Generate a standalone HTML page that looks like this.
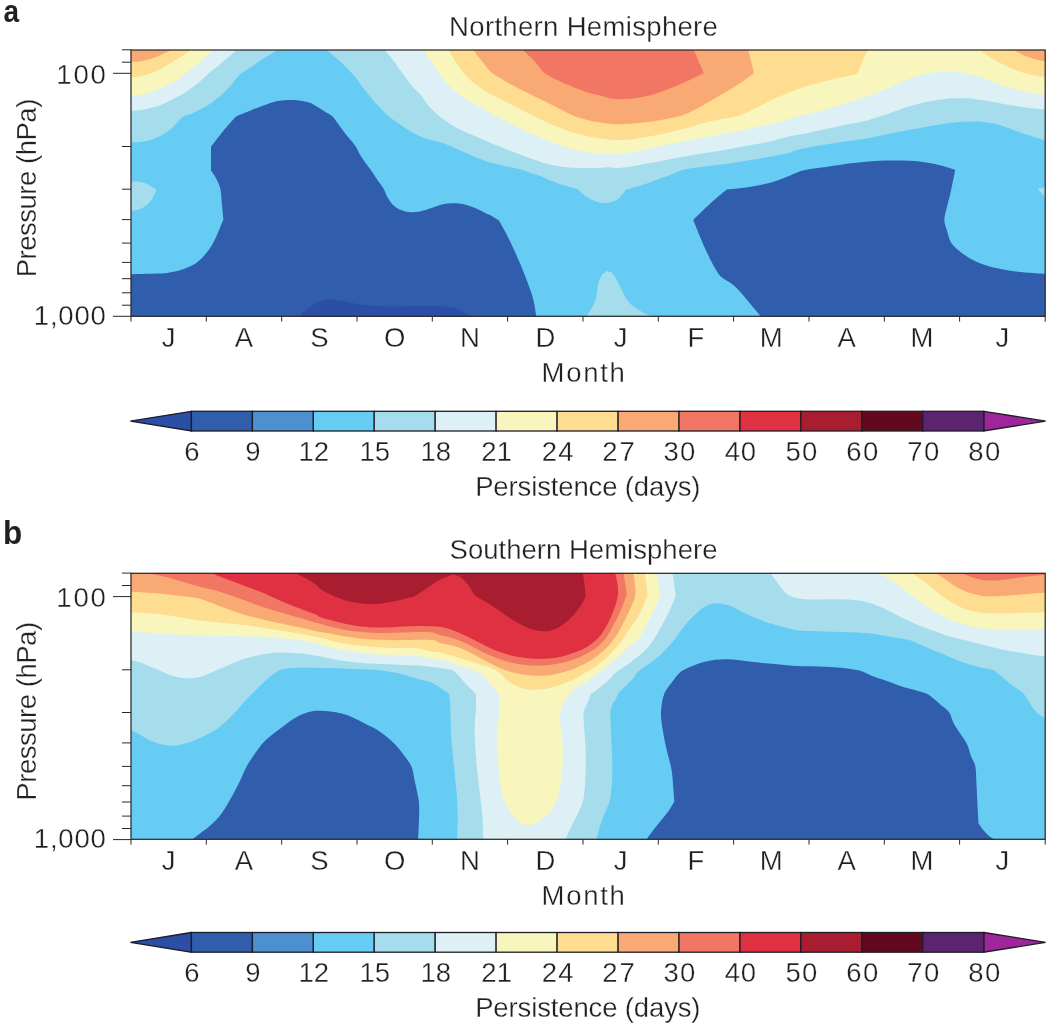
<!DOCTYPE html>
<html lang="en"><head><meta charset="utf-8"><title>Persistence by hemisphere</title>
<style>html,body{margin:0;padding:0;background:#fff}svg text{font-kerning:normal}svg text.t{stroke:#fff;stroke-width:.3px}svg text.b{stroke:none}</style></head>
<body>
<svg width="1050" height="1028" viewBox="0 0 1050 1028" style="display:block">
<rect width="1050" height="1028" fill="#fff"/>
<defs><clipPath id="cp1"><rect x="131" y="50" width="914.2" height="266.3"/></clipPath></defs>
<g clip-path="url(#cp1)" shape-rendering="geometricPrecision">
<rect x="131" y="50" width="914.2" height="266.3" fill="#66CCF4"/>
<path d="M128 47 L128 142.6 C128 142.6 135.6 142.4 139 142.1 C142.2 141.8 145.5 141.4 148.6 140.6 C151.7 139.7 155.1 138.6 158.1 137.1 C161.3 135.6 164.8 133.5 167.6 131.4 C170.4 129.5 172.8 127.1 175.2 124.8 C177.8 122.4 180 119 182.9 117.1 C185.7 115.2 189.3 114.7 192.4 113.3 C195.6 111.9 198.8 110.3 201.9 108.6 C205.1 106.8 208.4 105 211.4 102.9 C214.6 100.6 217.9 98 221 95.2 C224.1 92.4 227.5 89 230.5 85.7 C233.7 82.2 236.5 77.5 240 74.3 C243.4 71.2 247.9 69 251.4 66.7 C254.6 64.5 257.8 62.1 261 60 C264.1 58 267.3 56.1 270.5 54.3 C274.2 52.1 283.3 47 283.3 47Z" fill="#A5DDEC"/>
<path d="M1048.2 47 L323.2 47 C323.2 47 332.4 54.8 336.2 58.1 C339.4 60.9 342.7 63.6 345.7 66.7 C348.9 69.8 352.4 73.7 355.2 77.1 C358 80.5 360.3 84.3 362.9 87.6 C365.3 90.9 367.9 94.1 370.5 97.1 C372.9 100.1 375.5 102.9 378.1 105.7 C381 108.7 384.2 112.3 387.6 115.2 C391.1 118.3 395.2 121.1 399 123.8 C402.8 126.5 407 129.4 410.5 131.4 C413.5 133.2 416.7 134.8 420 136.2 C423.5 137.6 427.6 138.8 431.4 140 C435.6 141.3 440.4 142.3 444.8 143.8 C449.2 145.4 453.7 147.6 458.1 149.5 C462.9 151.6 468.3 154.1 473.3 156.2 C478.4 158.2 483.5 160.3 488.6 161.9 C493.6 163.5 498.7 164.5 503.8 165.7 C508.9 166.9 514 167.7 519 169.1 C524.1 170.6 531.3 173.3 534.3 174.3 C535.2 174.6 536.2 174.4 537.1 174.8 C539.8 175.8 546 178.7 550.5 180.5 C554.9 182.2 559.4 183.8 563.8 185.2 C568.2 186.7 573.8 187.5 577.1 189 C579.8 190.3 581.4 193 583.8 194.8 C586.3 196.6 589.4 198.7 592.4 200.1 C595.4 201.5 598.7 202.6 601.9 203 C605.1 203.3 608.6 202.8 611.4 202 C614.2 201.2 616.9 200 619 198.2 C621.4 196.2 625.7 190 625.7 190 C625.7 190 632.7 187.9 636.2 186.8 C640.2 185.5 645.1 183.9 649.5 182.4 C654 180.9 658.4 179.3 662.9 177.6 C667.3 176 672.7 173.7 676.2 172.4 C678.7 171.4 681.2 170.1 683.8 169.5 C687.6 168.7 694 167.9 699 167.2 C704.1 166.5 709.2 166 714.3 165.3 C719.4 164.7 724.5 164.2 729.5 163.4 C734.6 162.7 739.7 161.8 744.8 161 C749.8 160.1 754.9 159.3 760 158.5 C765.1 157.6 770.2 156.8 775.2 155.8 C780.3 154.8 787.1 153.3 790.5 152.4 C792.1 151.9 793.6 150.9 795.2 150.5 C798.6 149.6 805.4 148.1 810.5 147 C815.5 146 820.6 145.2 825.7 144.4 C830.8 143.5 835.9 142.6 841 141.9 C847.5 141 858.7 139.7 865.2 138.7 C870.4 137.9 875.4 136.7 880.5 135.6 C885.6 134.6 890.6 133.4 895.7 132.4 C900.8 131.4 905.9 130.5 911 129.5 C916 128.6 921.1 127.6 926.2 126.7 C931.3 125.8 936.3 124.9 941.4 124.2 C946.5 123.5 951.6 122.7 956.7 122.3 C961.7 121.8 967.5 121.6 971.9 121.5 C975.7 121.5 979.5 121.5 983.3 121.9 C987.1 122.3 991 122.9 994.8 123.8 C998.6 124.7 1002.4 126 1006.2 127.2 C1010 128.5 1013.8 130.1 1017.6 131.4 C1021.4 132.8 1025.2 134 1029 135.2 C1034.1 136.9 1048.2 141.6 1048.2 141.6Z" fill="#A5DDEC"/>
<path d="M128 181.8 C128 181.8 135.6 181.3 139 181.8 C142.3 182.3 145.7 183.5 148.6 184.9 C151.4 186.2 156.6 190 156.6 190 C156.6 190 154.6 194.5 153.3 196.7 C152 198.9 150.3 201.5 148.6 203.3 C146.9 205.1 144.8 206.6 142.9 207.7 C141.1 208.7 139.2 209.6 137.1 210 C134.7 210.5 128 210.9 128 210.9Z" fill="#A5DDEC"/>
<path d="M584.8 319.3 C584.8 319.3 590.5 310.8 592.4 307.1 C594 304.1 595.4 300.9 596.2 297.6 C597.1 293.8 597.1 288.1 598.1 284.3 C598.9 281 601.9 274.8 601.9 274.8 C601.9 274.8 606.7 271 606.7 271 C606.7 271 612.4 272.9 612.4 272.9 C612.4 272.9 615.7 277.9 617.1 280.5 C618.7 283.3 620.3 286.8 621.9 290 C623.5 293.2 624.6 296.7 626.7 299.5 C628.7 302.4 631.5 304.9 634.3 307.1 C637.1 309.4 640.5 311.3 643.8 312.9 C648.1 314.9 659.9 319.3 659.9 319.3Z" fill="#A5DDEC"/>
<path d="M1037.6 189 L1048.2 186.2 L1048.2 200.5Z" fill="#A5DDEC"/>
<path d="M128 47 L128 111.1 C128 111.1 136.9 110.7 141 110.1 C144.8 109.5 148.6 108.7 152.4 107.6 C156.2 106.6 160.1 105.4 163.8 103.8 C167.6 102.2 171.5 100.1 175.2 98.1 C179 96 183.2 93.7 186.7 91.4 C189.9 89.3 193.3 87 196.2 84.8 C198.9 82.7 201.6 80.2 203.8 78.1 C205.8 76.3 207.5 74.1 209.5 72.4 C211.7 70.5 214.7 68.7 217.1 66.7 C219.7 64.6 222.2 62.2 224.8 60 C227.3 57.9 229.9 55.9 232.4 53.7 C234.9 51.5 239.9 47 239.9 47Z" fill="#DCF0F6"/>
<path d="M1048.2 47 L382.3 47 C382.3 47 388.6 54.5 391.4 58.1 C394.1 61.5 396.5 65.1 399 68.6 C401.6 72.1 404.1 75.7 406.7 79 C409.1 82.3 411.7 85.7 414.3 88.6 C416.7 91.3 419.7 93.5 421.9 96.2 C424.1 98.8 425.4 102.1 427.6 104.8 C430.2 107.8 433.7 111.4 437.1 114.3 C440.6 117.3 444.6 120.3 448.6 122.9 C452.7 125.6 457.3 128.2 461.9 130.5 C466.7 132.9 472.1 134.9 477.1 137.1 C482.2 139.4 487.3 141.7 492.4 143.8 C497.8 146 503.8 148.3 509.5 150.5 C515.2 152.7 521 155.1 526.7 157.1 C532.3 159.2 538.1 161.3 543.8 162.9 C549.4 164.4 555.2 165.8 561 166.7 C566.6 167.5 572.4 167.8 578.1 168 C583.8 168.2 589.8 168.1 595.2 168 C600.3 167.9 607.1 167.2 610.5 167.2 C612.1 167.2 613.6 168 615.2 168 C618.6 167.9 625.4 167.4 630.5 166.7 C635.6 166 640.6 164.8 645.7 163.8 C650.8 162.9 655.9 161.9 661 161 C666 160 671.1 159 676.2 158.1 C681.3 157.1 686.3 156.1 691.4 155.2 C696.5 154.4 701.6 153.6 706.7 152.8 C711.7 152 716.8 151.3 721.9 150.5 C727 149.6 732.1 148.6 737.1 147.6 C742.2 146.7 747.3 145.7 752.4 144.8 C757.5 143.8 763 142.9 767.6 141.9 C771.8 141 775.9 139.7 780 138.7 C784.6 137.6 790.2 136.3 795.2 135.2 C800.3 134.2 805.4 133.4 810.5 132.4 C815.6 131.4 820.6 130.3 825.7 129.1 C830.8 128 835.9 126.8 841 125.7 C847.5 124.3 858.7 122.5 865.2 121 C870.4 119.7 875.4 117.9 880.5 116.2 C885.6 114.5 890.6 112.6 895.7 110.9 C900.8 109.1 905.9 107.2 911 105.7 C916 104.2 921.1 103 926.2 101.9 C931.2 100.9 936.3 100 941.4 99.4 C946.5 98.8 951.6 98.4 956.7 98.3 C961.7 98.2 966.8 98.2 971.9 98.7 C977 99.1 982.1 100.1 987.1 101 C992.2 101.8 997.3 102.9 1002.4 103.8 C1007.4 104.7 1012.9 105.6 1017.6 106.3 C1022.1 107 1026.5 107.7 1031 108.2 C1036 108.8 1048.2 109.8 1048.2 109.8Z" fill="#DCF0F6"/>
<path d="M128 47 L128 95.8 C128 95.8 136.9 95.6 141 94.9 C144.9 94.1 148.6 92.8 152.4 91.4 C156.2 90.1 160.1 88.4 163.8 86.7 C167.6 84.9 171.7 83 175.2 81 C178.6 79 181.7 76.6 184.8 74.3 C187.9 71.9 191.4 69 194.3 66.7 C196.9 64.5 199.4 62.2 201.9 60 C204.4 57.9 207 55.9 209.5 53.7 C212 51.5 217 47 217 47Z" fill="#F8F6BD"/>
<path d="M1048.2 47 L421.9 47 C421.9 47 427 55.1 429.5 59 C432 62.9 434.6 66.8 437.1 70.5 C439.6 74 442 77.7 444.8 81 C447.6 84.3 450.9 87.5 454.3 90.5 C457.8 93.5 461.7 96.4 465.7 99 C469.8 101.7 474.6 104.1 479 106.7 C483.8 109.4 489.2 112.5 494.3 115.2 C499.3 117.9 504.4 120.3 509.5 122.9 C514.9 125.6 521 128.7 526.7 131.4 C532.3 134.1 538.1 136.7 543.8 139 C549.5 141.4 555.2 143.8 561 145.7 C566.6 147.6 572.4 149.2 578.1 150.5 C583.8 151.7 589.8 152.7 595.2 153.3 C600.3 153.9 607.1 154.1 610.5 154.3 C612.1 154.4 613.7 154.4 615.2 154.3 C618.6 154 625.4 153.2 630.5 152.4 C635.6 151.6 640.7 150.6 645.7 149.5 C650.8 148.4 655.9 146.8 661 145.7 C666 144.6 671.1 143.8 676.2 142.9 C681.3 141.9 686.3 141 691.4 140 C696.5 139 701.6 138.1 706.7 137.1 C711.7 136.2 716.8 135.2 721.9 134.3 C727 133.3 732.1 132.5 737.1 131.4 C742.2 130.4 747.3 129.1 752.4 128 C757.5 126.9 763 125.8 767.6 124.8 C771.8 123.8 775.9 123 780 121.9 C784.6 120.6 790.2 118.6 795.2 117.1 C800.3 115.7 805.4 114.6 810.5 113.3 C815.6 112.1 820.7 110.9 825.7 109.5 C830.8 108.1 835.9 106.4 841 104.8 C847.5 102.7 858.7 99.4 865.2 97.1 C870.4 95.4 875.5 93.5 880.5 91.4 C885.6 89.4 890.6 87 895.7 84.8 C900.8 82.5 905.9 79.9 911 78.1 C915.9 76.3 921.4 74.9 926.2 73.9 C930.6 73 935.1 72.3 939.5 72 C944 71.7 948.4 71.6 952.9 71.8 C957.3 72 961.8 72.5 966.2 73.3 C970.6 74.2 975.1 75.7 979.5 77.1 C984 78.6 988.4 80.3 992.9 81.9 C997.3 83.5 1001.7 85.2 1006.2 86.7 C1010.6 88.1 1015.1 89.4 1019.5 90.5 C1023.9 91.6 1028.4 92.6 1032.9 93.3 C1037.6 94.1 1048.2 95.2 1048.2 95.2Z" fill="#F8F6BD"/>
<path d="M128 47 L128 77.4 C128 77.4 137.2 76.9 141 76.2 C144.2 75.6 147.3 74.4 150.5 73.3 C153.7 72.2 156.9 71.1 160 69.5 C163.2 67.9 166.3 65.7 169.5 63.8 C172.7 61.9 176.2 59.9 179 58.1 C181.6 56.5 184.2 54.7 186.7 53 C189.3 51.1 195 47 195 47Z" fill="#FEDC90"/>
<path d="M446.8 47 C446.8 47 452.6 56.7 455.2 61 C457.7 64.8 460.2 69 462.9 72.4 C465.4 75.5 468.4 78.3 471.4 81 C474.8 83.8 478.9 86.9 482.9 89.5 C487 92.2 491.7 94.7 496.2 97.1 C501 99.7 506.3 102.2 511.4 104.8 C516.5 107.3 521.6 109.8 526.7 112.4 C531.7 114.9 536.8 117.6 541.9 120 C546.9 122.4 552.1 124.6 557.1 126.7 C562.2 128.7 567.3 130.8 572.4 132.4 C577.4 133.9 582.5 135.1 587.6 136.2 C592.7 137.2 598.3 138 602.9 138.7 C607 139.2 611.1 139.9 615.2 140 C619.8 140.1 625.4 139.9 630.5 139.4 C635.6 139 640.6 138 645.7 137.1 C650.8 136.3 655.9 135.4 661 134.3 C666 133.2 671.1 131.7 676.2 130.5 C681.3 129.2 686.4 128 691.4 126.7 C696.5 125.3 701.6 123.6 706.7 122.3 C711.7 121 716.8 120.1 721.9 119 C727 118 733 117.3 737.1 116.2 C740.4 115.3 743.5 113.8 746.7 112.4 C749.8 111 753 109.2 756.2 107.6 C759.4 106 762.5 104.4 765.7 102.9 C768.9 101.3 772.9 99.2 775.2 98.1 C776.8 97.4 778.4 96.8 780 96.2 C782.7 95.1 787.6 92.9 791.4 91.4 C795.6 89.8 800.3 88.1 804.8 86.7 C809.2 85.3 813.6 84 818.1 82.9 C822.9 81.6 828.6 80.2 833.3 79 C837.8 78 842.7 77 846.7 76.2 C850.2 75.4 857.1 73.9 857.1 73.9 C857.1 73.9 859.7 67.7 861 64.8 C862.2 61.9 863.4 59 864.8 56.2 C866.2 53.2 869.5 47 869.5 47Z" fill="#FEDC90"/>
<path d="M1048.2 47 L975.2 47 C975.2 47 983.6 52.9 987.1 55.2 C990.2 57.3 993.4 59.2 996.7 61 C1000.2 62.9 1004.3 64.9 1008.1 66.7 C1011.8 68.4 1015.7 70.1 1019.5 71.4 C1023.3 72.7 1027.1 73.8 1031 74.7 C1035.7 75.7 1048.2 77.7 1048.2 77.7Z" fill="#FEDC90"/>
<path d="M128 47 L128 62.1 C128 62.1 137.2 61.8 141 61.3 C144.2 60.9 147.4 60 150.5 59 C153.7 58 157.1 56.4 160 55.2 C162.6 54.2 165.1 53.1 167.6 51.8 C170.4 50.4 176.4 47 176.4 47Z" fill="#F9AA74"/>
<path d="M471.1 47 C471.1 47 477.7 55.9 481 60 C484 63.9 487.3 68.4 490.5 71.4 C493.3 74.1 496.7 76 500 78.1 C503.5 80.3 507.5 82.7 511.4 84.8 C515.9 87.1 521.6 89.8 526.7 92.4 C531.7 94.9 536.8 97.5 541.9 100 C547 102.5 552.1 105.1 557.1 107.6 C562.2 110.2 567.3 113.2 572.4 115.2 C577.3 117.2 582.5 118.7 587.6 120 C592.6 121.3 598.3 122.2 602.9 122.9 C607 123.5 611.1 124 615.2 124.2 C619.8 124.3 625.4 124.1 630.5 123.8 C635.6 123.5 640.6 122.9 645.7 122.3 C650.8 121.7 655.9 120.9 661 120 C666 119.1 671.7 118.3 676.2 117.1 C680.1 116.2 683.9 114.9 687.6 113.3 C691.4 111.7 695.3 109.6 699 107.6 C702.9 105.6 706.7 103.2 710.5 101 C714.3 98.7 718.1 96.5 721.9 94.3 C725.7 92.1 729.6 90 733.3 87.6 C737.1 85.2 741.3 82.4 744.8 80 C747.9 77.8 753.9 73.3 753.9 73.3 C753.9 73.3 752.4 65.7 751.4 61.9 C750.3 57.5 747.4 47 747.4 47Z" fill="#F9AA74"/>
<path d="M1048.2 47 L1008.6 47 C1008.6 47 1017.7 52.4 1021.4 54.3 C1024.5 55.8 1027.8 57 1031 58.1 C1034.1 59.1 1037.6 60 1040.5 60.6 C1043 61.1 1048.2 61.8 1048.2 61.8Z" fill="#F9AA74"/>
<path d="M519.8 47 C519.8 47 530.1 56.6 534.3 61 C538 64.9 541 70.2 544.8 73.3 C548.4 76.3 552.9 78 557.1 80 C561.7 82.2 567.3 84.6 572.4 86.7 C577.4 88.7 582.5 90.8 587.6 92.4 C592.6 93.9 598.9 95.1 602.9 96.2 C605.7 96.9 608.5 98.3 611.4 98.7 C615.4 99.1 621.6 99.3 626.7 99 C631.7 98.8 636.9 98.1 641.9 97.1 C647 96.2 652.1 94.9 657.1 93.3 C662.2 91.7 667.4 89.7 672.4 87.6 C677.5 85.6 682.6 83.2 687.6 81 C692.9 78.6 703.8 73.3 703.8 73.3 C703.8 73.3 700.7 65.7 699 61.9 C697.1 57.5 692.4 47 692.4 47Z" fill="#F27664"/>
<path d="M128 319.3 L128 274.2 C128 274.2 138.2 274.1 142.9 274 C147.3 273.9 152.1 273.8 156.2 273.6 C160 273.4 163.8 273.4 167.6 272.9 C171.4 272.3 175.6 271.5 179 270.6 C182.3 269.7 185.5 268.6 188.6 267.1 C191.7 265.6 195.2 263.7 198.1 261.4 C200.9 259.2 203.4 256.6 205.7 253.8 C208.1 251 210.5 247.5 212.4 244.3 C214.2 241.2 215.7 237.9 217.1 234.8 C218.5 231.6 219.9 227.8 221 225.2 C221.7 223.3 223.4 219.5 223.4 219.5 C223.4 219.5 222.4 209.4 221.9 204.3 C221.4 199.2 221.3 193.3 220.4 189 C219.6 185.4 217.7 181.7 216.2 178.6 C214.8 175.7 211 170.5 211 170.5 C211 170.5 211 146.7 211 146.7 C211 146.7 218.8 136.4 222.9 131.4 C227 126.3 236.2 116.2 236.2 116.2 C236.2 116.2 245.1 112.6 249.5 110.9 C254 109.1 258.4 107.3 262.9 105.7 C267.3 104.1 272.1 102.3 276.2 101.3 C279.9 100.5 283.8 100.2 287.6 100 C291.4 99.8 295.3 99.9 299 100.4 C302.9 100.9 307.5 101.8 310.5 102.9 C312.9 103.7 314.9 105.3 317.1 106.7 C319.5 108.1 322.2 109.8 324.8 111.4 C327.3 113 330.2 114.2 332.4 116.2 C334.6 118.3 336.2 121.3 338.1 123.8 C340.3 126.8 343.1 130.9 345.7 134.3 C348.6 137.9 352.7 142.1 355.2 145.7 C357.5 149 358.8 152.8 361 156.2 C363.5 160.2 367.8 165.6 370.5 169.5 C372.8 172.8 374.9 176.3 377.1 179.5 C379.3 182.7 382.1 186 383.8 189 C385.4 191.8 386 194.9 387.6 197.6 C389.2 200.3 391.1 203.2 393.3 205.2 C395.5 207.3 398.2 208.9 401 210 C403.8 211.2 407.3 212 410.5 212.3 C413.7 212.5 416.9 212.1 420 211.5 C423.5 210.8 427.6 209.3 431.4 208.1 C435.2 206.9 439.4 205.1 442.9 204.3 C446 203.6 449.2 203.3 452.4 203.3 C455.9 203.3 460.1 203.5 463.8 204.3 C467.6 205.1 471.5 206.6 475.2 208.1 C479 209.7 484.3 212.7 486.7 213.8 C487.6 214.2 488.6 214.3 489.5 214.8 C491.6 215.9 499 220.5 499 220.5 C499 220.5 502.9 227.4 504.8 231 C507 235.2 510 241.1 512.4 246.2 C514.9 251.6 517.6 257.6 520 263.3 C522.5 269.4 525.4 276.3 527.6 282.4 C529.7 288 531.9 293.7 533.3 299.5 C534.8 305.7 536.7 319.3 536.7 319.3Z" fill="#305EAD"/>
<path d="M1048.2 319.3 L763.5 319.3 C763.5 319.3 755 309.5 751.4 305.2 C748.2 301.5 745.1 297.3 741.9 293.8 C738.9 290.5 735.9 287.1 732.4 284.3 C728.9 281.4 724.1 279.8 721 276.7 C717.8 273.5 715.6 269.2 713.3 265.2 C711 261.1 708.8 256.4 706.7 251.9 C704.4 247.1 702.1 241.8 700 236.7 C697.8 231.3 693.3 219.9 693.3 219.9 C693.3 219.9 704 209.3 709.5 204.3 C715.1 199.2 726.7 189.6 726.7 189.6 C726.7 189.6 736.8 188.8 741.9 188.1 C747.3 187.4 753.7 186.3 759 185.2 C764.2 184.2 769.3 183 774.3 181.4 C779.4 179.8 784.8 177.5 789.5 175.7 C794 174 798.2 171.7 802.9 170.5 C807.6 169.2 813 168.8 818.1 168 C823.2 167.2 828.3 166.5 833.3 165.7 C838.4 165 843.5 164.1 848.6 163.4 C853.6 162.8 858.7 162.3 863.8 161.9 C868.9 161.5 874 161 879 160.8 C884.1 160.5 889.2 160.4 894.3 160.4 C899.4 160.4 904.5 160.4 909.5 160.8 C914.6 161.1 919.7 161.5 924.8 162.3 C929.8 163 935 164.1 940 165.3 C945.1 166.6 955.2 169.9 955.2 169.9 C955.2 169.9 952.3 184.9 951 191 C949.8 196.1 948.3 201.4 947.1 206.2 C946.1 210.7 944.3 215.8 944.3 219.9 C944.3 223.7 946.1 227.3 947.1 231 C948.3 234.7 948.8 239 951 242.4 C953.2 245.9 957 249.1 960.5 251.9 C964.3 254.9 969.1 258.1 973.8 260.5 C978.6 262.9 983.8 264.7 989 266.2 C994.4 267.8 1000.4 269 1006.2 270 C1012.2 271 1018.9 271.9 1025.2 272.5 C1032.2 273.1 1048.2 274 1048.2 274Z" fill="#305EAD"/>
<path d="M295.8 319.3 C295.8 319.3 302 313.2 304.8 311 C307.2 309 310.3 307.1 312.4 305.6 C314 304.4 317.1 301.8 317.1 301.8 C317.1 301.8 324.8 299.7 328.6 299.5 C332.4 299.3 336.2 299.9 340 300.5 C344.1 301.1 348.9 302.5 353.3 303.3 C358.1 304.2 363.5 305.1 368.6 305.6 C374 306.1 380 306.3 385.7 306.4 C391.7 306.5 398.4 306.3 404.8 306.2 C411.1 306.1 417.8 306 423.8 306 C429.5 306 436.2 306.1 441 306.4 C444.8 306.6 448.9 306.8 452.4 307.5 C455.7 308.2 458.9 309.4 461.9 311 C465.7 312.9 475.3 319.3 475.3 319.3Z" fill="#2B4FA6"/>
</g>
<defs><clipPath id="cp2"><rect x="131" y="573.3" width="914.2" height="266"/></clipPath></defs>
<g clip-path="url(#cp2)" shape-rendering="geometricPrecision">
<rect x="131" y="573.3" width="914.2" height="266" fill="#66CCF4"/>
<path d="M1048.2 570.3 L128 570.3 L128 728.7 C128 728.7 135.6 732.1 139 734 C142.3 735.7 145.4 738.1 148.6 739.7 C151.6 741.2 154.9 742.5 158.1 743.5 C161.2 744.4 164.4 745.1 167.6 745.4 C170.8 745.7 174 745.8 177.1 745.4 C180.3 745 183.5 743.8 186.7 742.9 C189.8 742 193.1 740.9 196.2 739.7 C199.4 738.4 202.6 736.8 205.7 735.3 C208.9 733.7 212.2 732.2 215.2 730.1 C218.4 728 221.7 725.2 224.8 722.5 C227.9 719.7 231.2 716.3 234.3 713 C237.5 709.7 241 705.6 243.8 702.5 C246.3 699.8 248.8 697.1 251.4 694.4 C254.3 691.5 257.8 687.9 261 684.9 C264 682 267.3 678.8 270.5 676.3 C273.5 674 276.5 671.4 280 670 C283.5 668.7 287.6 668.6 291.4 668.1 C295.6 667.7 300.8 667.4 304.8 667.4 C308.3 667.3 311.7 667.7 315.2 667.8 C319.5 667.9 325.4 668 330.5 668.1 C335.6 668.3 340.6 668.5 345.7 668.7 C350.8 668.9 355.9 669.1 361 669.3 C366 669.5 371.1 669.6 376.2 670 C381.3 670.5 386.4 671.1 391.4 672 C396.5 672.8 401.6 674 406.7 675.4 C411.7 676.7 418 679 421.9 680.1 C424.6 680.9 427.5 681.1 430 682 C432.3 682.8 434.5 684.1 436.7 685.3 C438.9 686.7 441.3 688.7 443.3 690 C445.1 691.2 448.7 693.3 448.7 693.3 C448.7 693.3 449.8 697.7 450 700 C450.3 704.4 450.4 713.3 450.7 720 C450.9 726.8 451 734 451.4 740.6 C451.9 747 452.7 753.3 453.3 759.7 C454 766 454.6 772.4 455.2 778.7 C455.9 785.4 456.7 793 457.1 799.7 C457.5 806 457.7 812.4 457.7 818.7 C457.7 825.3 457.1 839.3 457.1 839.3 C457.1 839.3 596.6 839.3 596.6 839.3 C596.6 839.3 598.7 830.6 600 826.3 C601.4 822 603.2 817.1 604.8 813 C606.2 809.1 608.5 805.6 609.5 801.6 C610.6 797.4 611 792.7 611.4 788.2 C611.9 782.8 612.3 775.5 612.4 769.2 C612.4 762.8 612 756.5 611.8 750.1 C611.6 743.8 611.3 737.4 611 731.1 C610.8 724.7 610.1 716.8 610.5 712 C610.7 708.7 612.5 704.5 613.3 702.5 C613.7 701.6 614.7 701 615.2 700.1 C616.2 698.5 617.3 694.8 619 692.5 C621 690 624.1 687.4 626.7 684.9 C629.2 682.4 632.5 679.3 634.3 677.3 C635.5 675.9 635.8 673.8 637.1 672.5 C638.9 670.8 642.2 668.7 644.8 666.8 C647.6 664.7 651.3 662.6 654.3 660.1 C657.5 657.6 660.8 654.6 663.8 651.6 C667 648.4 670.5 644.6 673.3 641.1 C676.1 637.8 678.4 634 681 630.6 C683.4 627.4 686 624 688.6 621.1 C691 618.4 693.7 615.8 696.2 613.5 C698.6 611.3 701.3 608.8 703.8 607.2 C706.1 605.7 708.9 604.6 711.4 604 C713.9 603.3 716.5 603.2 719 603.4 C721.9 603.6 725.5 604.3 728.6 605.3 C731.7 606.3 734.9 608.1 738.1 609.7 C741.6 611.3 745.7 613.6 749.5 615.4 C753.3 617.1 757.1 618.7 761 620.1 C764.7 621.6 768.5 622.9 772.4 624 C778.1 625.6 788.9 628.7 795.2 629.9 C800.2 630.8 805.4 630.7 810.5 631 C815.6 631.3 820.6 631.4 825.7 631.6 C830.8 631.7 835.9 631.8 841 632 C847.5 632.2 858.7 632.6 865.2 633.1 C870.3 633.5 875.4 634.2 880.5 635 C885.6 635.8 891 636.8 895.7 637.7 C900.2 638.5 905.2 639.1 909 640.1 C912.3 641 915.4 642.7 918.6 644 C922.1 645.4 926.2 647.1 930 648.7 C933.8 650.3 937.6 651.9 941.4 653.5 C945.6 655.2 950.3 657.4 954.8 659.2 C959.2 660.9 963.7 662.5 968.1 664 C972.5 665.4 977.3 666.7 981.4 667.8 C985.2 668.7 989.7 668.8 992.9 670 C995.7 671.2 998 673.5 1000.5 675.4 C1003 677.4 1005.6 680 1008.1 682 C1010.6 684 1013.2 685.9 1015.7 687.8 C1018.3 689.7 1021.2 691.2 1023.3 693.5 C1025.6 695.9 1027.1 699.2 1029 702 C1031 704.9 1032.9 708.4 1034.8 710.6 C1036.4 712.5 1038.4 714 1040.5 715.4 C1042.7 717 1048.2 720 1048.2 720Z" fill="#A5DDEC"/>
<path d="M128 570.3 L128 659.4 C128 659.4 135.6 661 139 662 C142.3 663.1 145.4 664.6 148.6 665.9 C151.7 667.1 154.9 668.3 158.1 669.7 C161.3 671 164.4 672.7 167.6 673.9 C170.7 675 173.9 676.2 177.1 676.9 C180.6 677.6 184.8 678.2 188.6 678.2 C192.4 678.2 196.3 677.8 200 676.9 C203.8 676 207.7 674.1 211.4 672.5 C215.2 670.9 219 669.1 222.9 667.4 C226.7 665.7 230.5 664 234.3 662.4 C238.1 660.9 241.9 659.4 245.7 658.2 C249.5 657.1 253.3 656.2 257.1 655.4 C260.9 654.6 264.8 654 268.6 653.5 C272.4 653 276.2 652.6 280 652.5 C283.8 652.4 288.1 652.7 291.4 652.9 C294.3 653 297.1 653.2 300 653.5 C303 653.7 306.4 654 309.5 654.4 C312.7 654.9 315.9 655.7 319 656.3 C322.5 657 326.7 657.9 330.5 658.6 C334.6 659.4 339.4 660.5 343.8 661.1 C348.2 661.7 352.7 662 357.1 662.4 C361.9 662.8 367.3 663.3 372.4 663.6 C377.5 663.9 382.5 664.1 387.6 664.3 C392.7 664.6 397.8 664.7 402.9 664.9 C407.9 665.1 413.6 665.2 418.1 665.5 C422.1 665.7 426.2 666.2 430 666.7 C433.6 667.1 437.1 667.5 440.7 668 C444.4 668.6 452.7 670 452.7 670 C452.7 670 456.4 673 458 674.7 C460.2 677 463.2 681 466 684 C469 687.2 476 694 476 694 C476 694 476.2 702.4 476 706.7 C475.8 712.1 474.9 721 474.7 726.7 C474.5 731.3 474.6 736 474.9 740.6 C475.1 746.1 475.7 753.3 476.2 759.7 C476.7 766 477.4 772.4 478.1 778.7 C478.8 785.4 479.8 793 480.6 799.7 C481.3 806 482 812.3 482.5 818.7 C482.9 825.3 483.2 839.3 483.2 839.3 C483.2 839.3 565.7 839.3 565.7 839.3 C565.7 839.3 569.4 830.6 571.4 826.3 C573.5 822 576.2 817.1 578.1 813 C579.8 809.3 581.8 805.6 582.9 801.6 C584 797.4 584.4 792.7 584.8 788.2 C585.2 782.8 585.6 775.5 585.7 769.2 C585.9 762.8 585.9 756.5 585.7 750.1 C585.5 743.8 584.7 737.4 584.4 731.1 C584.1 724.8 583.1 717.1 583.8 712 C584.4 708 587.5 703.6 588.6 700.6 C589.3 698.6 590.5 694.4 590.5 694.4 C590.5 694.4 595.6 690.7 598.1 688.7 C601 686.5 604.6 683.8 607.6 681.1 C610.8 678.2 613.7 674.4 617.1 671.6 C620.6 668.7 625.9 665.9 628.6 664 C630.2 662.8 631.7 661.4 633.3 660.1 C635.7 658.2 639.9 655.3 642.9 652.5 C645.9 649.7 648.9 646.3 651.4 643 C653.9 639.7 656 636.1 658.1 632.5 C660.3 628.7 662.7 624.1 664.8 620.1 C666.7 616.4 668.7 612.6 670.5 608.7 C672.3 604.7 675.6 596.3 675.6 596.3 C675.6 596.3 674.9 588.1 674.3 584 C673.7 579.6 671.8 570.3 671.8 570.3Z" fill="#DCF0F6"/>
<path d="M1048.2 570.3 L768.3 570.3 C768.3 570.3 773.9 578 776.2 581.1 C778.1 583.6 780 586.5 781.9 588.7 C783.7 590.8 785.4 592.9 787.6 594.4 C789.8 595.9 792.6 596.9 795.2 597.7 C798.1 598.5 801.6 598.9 804.8 599.2 C807.9 599.5 811.1 599.6 814.3 599.6 C819 599.6 827.6 599.2 833.3 599.2 C838.4 599.2 843.8 599.3 848.6 599.6 C853 599.9 857.9 600.4 861.9 601.1 C865.6 601.8 869.3 602.7 872.9 604 C876.6 605.2 880.5 607 884.3 608.7 C888.1 610.5 891.9 612.5 895.7 614.4 C899.8 616.5 904.6 619 909 621.1 C913.4 623.1 917.9 625.1 922.4 626.8 C926.8 628.5 931.3 630 935.7 631.6 C940.2 633.2 944.5 635 949 636.3 C953.8 637.8 959.2 638.9 964.3 640.1 C969.4 641.4 974.4 642.7 979.5 644 C984.6 645.2 989.7 646.6 994.8 647.8 C999.8 648.9 1004.9 650 1010 651 C1015.1 651.9 1020.8 652.7 1025.2 653.5 C1029 654.1 1032.8 654.8 1036.7 655.4 C1040.5 655.9 1048.2 656.7 1048.2 656.7Z" fill="#DCF0F6"/>
<path d="M128 570.3 L128 631.9 C128 631.9 139.3 632.3 145 632.6 C151.2 633 158.3 633.6 165 634 C171.7 634.4 178.3 634.7 185 635 C191.7 635.3 198.3 635.4 205 635.6 C211.7 635.8 218.3 635.9 225 636 C231.7 636.1 238.3 636 245 636.2 C251.7 636.4 258.3 636.6 265 637 C271.7 637.4 279 638 285 638.6 C290.3 639.1 295.7 639.8 301 640.6 C306.3 641.4 314 642.7 317 643.4 C317.8 643.6 318.3 644.3 319 644.5 C321.3 645.3 326.6 646.8 330.5 647.8 C334.6 648.8 339.4 649.8 343.8 650.6 C348.2 651.4 352.7 652 357.1 652.5 C361.9 653.1 367.3 653.6 372.4 654 C377.5 654.5 382.5 654.7 387.6 655 C392.7 655.3 397.8 655.4 402.9 655.6 C407.9 655.7 413.6 655.4 418.1 656 C422.1 656.4 426.2 658 430 658.7 C433.5 659.3 437.1 659.3 440.7 660 C444.2 660.7 447.8 661.6 451.3 662.7 C454.9 663.8 458.4 665.4 462 666.7 C465.5 667.9 469.6 668.9 472.7 670 C475.4 671 478.4 671.9 480.7 673.3 C482.8 674.7 484.3 676.8 486 678.7 C487.8 680.7 489.6 683.3 491.3 685.3 C493 687.2 495.3 688.9 496.7 690.7 C497.9 692.3 499.3 696 499.3 696 C499.3 696 499.3 706.7 499 712 C498.7 717.9 497.8 724.7 497.5 731.1 C497.3 737.4 497.3 743.8 497.5 750.1 C497.7 756.5 498.1 762.9 498.7 769.2 C499.2 775.5 499.8 782.5 501 788.2 C502 793.5 503.8 799 505.7 803.5 C507.5 807.5 510 811.7 512.4 814.9 C514.5 817.8 517.5 820.8 520 822.5 C522.2 824.1 527.6 825.4 527.6 825.4 C527.6 825.4 532.9 824.6 535.2 823.5 C538.1 822 541.9 819.4 544.8 816.8 C547.8 814.1 551.2 811 553.3 807.3 C555.7 803.2 557.7 797.3 559 792 C560.5 786.3 561.3 779.3 561.9 773 C562.5 766.7 562.9 760.3 562.9 754 C562.9 747.6 562.4 741.2 561.9 734.9 C561.4 728.6 559.7 721.3 560 715.9 C560.3 711.2 561.7 706.6 563.8 702.5 C566 698.2 570.2 692.8 573.3 689.7 C576 687.1 579.8 686 582.9 684 C586 681.9 589.2 679.5 592.4 677.3 C595.6 675.1 598.8 672.9 601.9 670.6 C605.1 668.2 608.3 665.6 611.4 663 C614.6 660.3 617.9 657.4 621 654.4 C624.1 651.4 627.8 647.1 630.5 644.9 C632.5 643.3 637.1 641.1 637.1 641.1 C637.1 641.1 641.8 634.2 643.8 630.6 C645.9 627 647.6 623 649.5 619.2 C651.4 615.4 653.6 611.6 655.2 607.8 C656.9 604 659.1 600.3 659.6 596.3 C660.2 592.4 658.9 588.1 658.5 584 C658 579.6 656.8 570.3 656.8 570.3Z" fill="#F8F6BD"/>
<path d="M1048.2 570.3 L875.6 570.3 C875.6 570.3 884.8 576.8 888.6 579.2 C891.7 581.2 896 583.5 898.1 584.9 C899.3 585.7 900.3 586.9 901.4 587.8 C903.9 589.7 909 593.5 912.9 596.3 C916.7 599.2 920.5 602.2 924.3 604.9 C928 607.6 931.7 610.2 935.7 612.5 C939.8 614.9 944.6 617.3 949 619.2 C953.4 621 957.9 622.6 962.4 624 C966.8 625.3 971.2 626.5 975.7 627.4 C980.5 628.3 985.9 628.8 991 629.3 C996 629.7 1001.1 629.9 1006.2 630 C1011.3 630.2 1017 630 1021.4 630 C1025.2 630 1029 630.1 1032.9 630 C1037.3 630 1048.2 629.6 1048.2 629.6Z" fill="#F8F6BD"/>
<path d="M128 570.3 L128 612.5 C128 612.5 139.8 612.8 145 613 C149.7 613.2 154.3 613.5 159 614 C163.7 614.5 168.3 615.2 173 616 C177.7 616.8 182.3 617.8 187 618.6 C191.7 619.4 196.3 620 201 620.6 C205.7 621.2 210.3 621.5 215 622 C219.7 622.5 224.3 622.9 229 623.4 C234 623.9 239.7 624.3 245 625 C250.3 625.7 255.7 626.6 261 627.4 C266.3 628.2 271.7 629.1 277 630 C282.3 630.9 287.7 631.7 293 632.6 C298.3 633.5 303.7 634.4 309 635.4 C314.3 636.4 321.4 637.7 325 638.6 C326.9 639.1 328.6 640.2 330.5 640.7 C333.6 641.5 339.4 642.6 343.8 643.4 C348.2 644.1 352.7 644.8 357.1 645.3 C361.9 645.9 367.3 646.4 372.4 646.8 C377.5 647.2 382.5 647.5 387.6 647.8 C392.7 648 397.8 648 402.9 648.1 C407.9 648.2 413.6 647.8 418.1 648.3 C422.2 648.8 426.2 650.6 430 651.3 C433.5 652 437.1 652 440.7 652.7 C444.2 653.3 447.8 654.3 451.3 655.3 C454.9 656.3 458.4 657.6 462 658.7 C465.6 659.8 469.1 660.9 472.7 662 C476.2 663.1 480 664.2 483.3 665.3 C486.5 666.4 490 667.4 492.7 668.7 C495 669.7 497.3 671.1 499.3 672.7 C501.3 674.2 502.8 676.3 504.7 678 C506.7 679.8 508.9 681.8 511.3 683.3 C513.8 684.9 516.5 686.3 519.3 687.3 C522.2 688.4 525.5 689.2 528.7 689.6 C532 690 535.8 689.9 539.3 689.6 C542.9 689.3 546.5 688.8 550 688 C553.6 687.2 557.2 685.9 560.7 684.7 C564.6 683.3 569.3 681.5 573.3 679.6 C577.3 677.7 581 675.3 584.8 673.1 C588.6 670.8 592.7 668.3 596.2 665.9 C599.5 663.5 602.7 661 605.7 658.2 C608.9 655.4 612.4 651.9 615.2 648.7 C618 645.7 620.5 642.5 622.9 639.2 C625.4 635.7 628.1 631.3 630.5 627.8 C632.7 624.6 635.2 621.6 637.1 618.2 C639.2 614.7 641.1 610.6 642.9 606.8 C644.6 603.1 647.6 595.4 647.6 595.4 C647.6 595.4 646.8 587.8 646.3 584 C645.7 579.8 644.3 570.3 644.3 570.3Z" fill="#FEDC90"/>
<path d="M1048.2 570.3 L908 570.3 C908 570.3 918.6 577.5 921 579.2 C921.4 579.5 921.9 579.8 922.4 580.1 C924.2 581.6 928.7 585.2 931.9 587.8 C935.1 590.3 938.1 593 941.4 595.4 C944.9 597.9 949 600.8 952.9 603 C956.5 605.1 960.3 607.2 964.3 608.7 C968.4 610.2 973.2 611.3 977.6 612.1 C982 612.9 986.5 613.3 991 613.5 C995.7 613.7 1001.1 613.6 1006.2 613.5 C1011.3 613.4 1017 613.1 1021.4 612.9 C1025.2 612.8 1029 612.6 1032.9 612.5 C1037.3 612.4 1048.2 612.1 1048.2 612.1Z" fill="#FEDC90"/>
<path d="M128 570.3 L128 591.9 C128 591.9 139.8 592.2 145 592.4 C149.7 592.6 154.3 593 159 593.4 C163.7 593.8 168.3 594.5 173 595 C177.7 595.5 182.7 596 187 596.6 C191 597.2 195.3 597.7 199 598.6 C202.4 599.4 205.7 600.8 209 602 C212.7 603.3 217 605.1 221 606.6 C225 608.1 229 609.6 233 611 C237 612.4 241 613.8 245 615 C249 616.2 253 617 257 618 C261 619 265 620.1 269 621 C273 621.9 277 622.6 281 623.4 C285 624.2 289 625.1 293 626 C297 626.9 301 627.7 305 628.6 C309 629.5 313 630.6 317 631.4 C321.2 632.2 326 632.7 330.5 633.5 C334.9 634.3 339.4 635.5 343.8 636.3 C348.2 637.1 352.7 637.7 357.1 638.2 C361.9 638.8 367.3 639.3 372.4 639.6 C377.5 639.9 382.5 640 387.6 640.1 C392.7 640.2 397.8 640.2 402.9 640.1 C407.9 640.1 413 639.8 418.1 639.8 C423.2 639.8 429.7 639.6 433.3 640.1 C435.7 640.5 437.7 642.3 440 643 C443 643.9 447.7 644.3 451.4 645.3 C455.2 646.3 459.2 647.6 462.9 649.1 C466.7 650.7 470.5 652.8 474.3 654.8 C478.1 656.8 481.9 659.1 485.7 661.1 C489.5 663.1 493.3 665.1 497.1 666.8 C500.9 668.5 504.8 670 508.6 671.2 C512.3 672.3 516.2 673.2 520 673.9 C523.8 674.6 527.6 675.1 531.4 675.4 C535.2 675.7 539 675.9 542.9 675.8 C546.7 675.6 550.5 675.1 554.3 674.4 C558.1 673.7 562 672.7 565.7 671.6 C569.5 670.4 573.4 669 577.1 667.4 C581 665.7 585.1 663.7 588.6 661.7 C591.9 659.8 595.1 657.7 598.1 655.4 C601.3 652.9 604.8 649.8 607.6 646.8 C610.4 643.9 612.9 640.6 615.2 637.3 C617.6 633.8 619.8 629.7 621.9 625.9 C623.9 622.1 625.9 618.1 627.6 614.4 C629.3 611 631.1 607.1 632.4 604 C633.5 601.2 634.9 598.4 635.2 595.4 C635.7 592 635.2 587.7 634.9 584 C634.5 579.8 632.9 570.3 632.9 570.3Z" fill="#F9AA74"/>
<path d="M1048.2 570.3 L931.6 570.3 C931.6 570.3 941.5 576.8 943.8 578.2 C944.3 578.6 944.8 578.9 945.2 579.2 C947.1 580.5 951.4 583.9 954.8 585.9 C958.3 587.9 962.2 590 966.2 591.6 C970.3 593.2 975.1 594.6 979.5 595.4 C983.9 596.2 988.4 596.3 992.9 596.3 C997.3 596.4 1001.8 596.1 1006.2 595.8 C1011 595.4 1017 594.8 1021.4 594.4 C1025.2 594.1 1029 593.8 1032.9 593.5 C1037.3 593.1 1048.2 592.3 1048.2 592.3Z" fill="#F9AA74"/>
<path d="M133.8 570.3 C133.8 570.3 156.2 574.8 162.7 576.2 C166.2 577 169.6 577.9 173 578.9 C176.6 579.9 180.6 581.2 184.4 582.3 C188.2 583.4 192.1 584.7 195.9 585.7 C199.7 586.7 203.5 587.7 207.3 588.6 C211.1 589.5 214.9 590.3 218.7 591.4 C223 592.6 228.6 594.5 233 596 C237 597.4 241 599.1 245 600.6 C249 602.1 253 603.6 257 605 C261 606.4 265 607.7 269 609 C273 610.3 277 611.4 281 612.6 C285 613.8 289 614.9 293 616 C297 617.1 301 618.2 305 619.4 C309 620.6 314.7 622.3 317 623 C317.7 623.2 318.4 623.4 319 623.6 C321.3 624.2 326.6 625.9 330.5 626.8 C334.6 627.8 339.4 628.9 343.8 629.7 C348.2 630.5 352.7 631.1 357.1 631.6 C361.9 632.1 367.3 632.5 372.4 632.7 C377.5 633 382.5 633.1 387.6 633.1 C392.7 633.1 397.8 632.7 402.9 632.5 C407.9 632.3 413 632 418.1 632 C423.2 632 429.7 632 433.3 632.5 C435.7 632.9 437.7 634.4 440 635 C443 635.9 447.7 636.5 451.4 637.7 C455.2 638.8 459.1 640.4 462.9 642 C466.7 643.7 470.5 645.9 474.3 647.8 C478.1 649.7 481.9 651.7 485.7 653.5 C489.5 655.2 493.3 656.8 497.1 658.2 C500.9 659.6 504.8 661 508.6 662 C512.3 663 516.2 663.8 520 664.3 C523.8 664.9 527.6 665.3 531.4 665.5 C535.2 665.7 539.1 665.7 542.9 665.5 C546.7 665.3 550.5 664.9 554.3 664.3 C558.1 663.8 562 663 565.7 662 C569.5 661 573.4 659.8 577.1 658.2 C581 656.7 585.1 654.5 588.6 652.5 C591.9 650.7 595.2 648.8 598.1 646.4 C601 644 603.5 641.2 605.7 638.2 C607.9 635.3 609.6 631.9 611.4 628.7 C613.3 625.4 615.4 621.7 617.1 618.2 C618.9 614.8 620.5 611.3 621.9 607.8 C623.3 604.3 624.9 599.5 625.7 597.3 C626.1 596.3 626.7 595.4 626.7 594.4 C626.6 592.2 625.9 587.4 625.3 584 C624.7 579.9 622.9 570.3 622.9 570.3Z" fill="#F27664"/>
<path d="M1048.2 570.3 L955.2 570.3 C955.2 570.3 967.2 575.6 971.9 577.3 C975.6 578.6 979.5 579.6 983.3 580.1 C987.1 580.7 991 580.7 994.8 580.5 C998.9 580.4 1003.7 579.7 1008.1 579.2 C1012.5 578.7 1017.3 577.8 1021.4 577.3 C1025.2 576.8 1029 576.3 1032.9 576 C1037.3 575.5 1048.2 574.5 1048.2 574.5Z" fill="#F27664"/>
<path d="M204.5 570.3 C204.5 570.3 216.2 575.1 221 577 C225 578.5 229 579.9 233 581.4 C237 582.9 241 584.5 245 586 C249 587.5 253 589 257 590.6 C261 592.2 265 593.7 269 595.4 C273 597.1 277 599.2 281 601 C285 602.8 289 604.4 293 606 C297 607.6 301 609.1 305 610.6 C309 612.1 314.7 614 317 615 C317.8 615.4 318.2 616.4 319 616.7 C321.3 617.6 326.6 619.1 330.5 620.1 C334.6 621.3 339.4 622.6 343.8 623.6 C348.2 624.5 352.7 625.3 357.1 625.9 C361.9 626.5 367.3 627.1 372.4 627.4 C377.5 627.6 382.5 627.5 387.6 627.4 C392.7 627.2 397.8 626.7 402.9 626.4 C407.9 626.2 413 625.9 418.1 625.9 C423.2 625.8 429.7 626.1 433.3 626.2 C435.6 626.3 437.8 626.4 440 626.8 C443 627.4 447.7 628.4 451.4 629.7 C455.2 630.9 459.1 632.7 462.9 634.4 C466.7 636.2 470.5 638.2 474.3 640.1 C478.1 642 481.9 644 485.7 645.9 C489.5 647.6 493.3 649.5 497.1 651 C500.9 652.5 504.8 653.8 508.6 654.8 C512.3 655.8 516.2 656.7 520 657.3 C523.8 657.9 527.6 658.4 531.4 658.6 C535.2 658.9 539 658.9 542.9 658.8 C546.7 658.7 550.5 658.4 554.3 657.9 C558.1 657.3 562 656.4 565.7 655.4 C569.5 654.3 573.4 653.1 577.1 651.6 C581 650 585.4 647.8 588.6 645.9 C591.3 644.2 594 642.2 596.2 640.1 C598.3 638.2 600.2 635.9 601.9 633.5 C603.8 630.8 605.9 627.2 607.6 624 C609.4 620.6 611 617 612.4 613.5 C613.8 610 615.2 606.3 616.2 603 C617.1 599.9 617.9 596.7 618.1 593.5 C618.3 590 617.7 585.8 617.1 582 C616.6 578.2 614.6 570.3 614.6 570.3Z" fill="#DF3142"/>
<path d="M290.1 570.3 C290.1 570.3 300.9 575.7 305 578 C308.4 579.9 312.5 582.2 315 584 C316.9 585.3 318.1 587.4 320 588.7 C322.6 590.5 326.9 592.7 330.5 594.4 C334.1 596.2 338 597.9 341.9 599.2 C346 600.6 350.8 601.8 355.2 602.6 C359.6 603.4 364.1 603.8 368.6 604 C373 604.1 377.5 603.9 381.9 603.4 C386.3 602.9 391.1 602 395.2 601.1 C399.1 600.3 403.5 599 406.7 598.2 C409.2 597.6 411.9 597.4 414.3 596.3 C416.8 595.2 419.4 593.2 421.9 591.6 C424.8 589.7 428.3 587 431.4 584.9 C434.5 582.9 437.8 580.8 441 579.2 C444 577.7 448.6 576.2 450.5 575.4 C451.1 575.1 452.4 574.4 452.4 574.4 C452.4 574.4 457 575.2 459 576.3 C461.1 577.4 463 579.3 464.8 581.1 C466.5 582.8 468.1 584.8 469.5 586.8 C471.1 589 472.4 592.4 474.3 594.4 C476.1 596.4 478.6 597.7 481 599.2 C483.5 600.8 486.8 602.2 489.5 604 C492.5 605.9 495.9 608.4 499 610.6 C502.2 612.8 505.4 615.2 508.6 617.3 C511.7 619.3 514.9 621.3 518.1 623 C521.2 624.7 524.4 626.5 527.6 627.8 C530.7 629 534 630 537.1 630.6 C540.3 631.2 543.5 631.5 546.7 631.2 C549.8 630.9 553.3 629.9 556.2 628.7 C558.9 627.5 561.4 625.7 563.8 624 C566.3 622 569.2 619.5 571.4 617.3 C573.5 615.2 575.4 612.8 577.1 610.6 C578.8 608.5 580.5 606.3 581.9 604 C583.3 601.6 585.7 596.3 585.7 596.3 C585.7 596.3 585.2 589.3 584.8 585.9 C584.2 581.5 582.4 570.3 582.4 570.3Z" fill="#A91D31"/>
<path d="M188.4 842.3 C188.4 842.3 198.1 835 201.9 832 C205.1 829.6 208.6 827 211.4 824.4 C214.1 822 216.8 819.6 219 816.8 C221.6 813.6 224.3 809.3 226.7 805.4 C229.2 801.3 231.9 796.5 234.3 792 C236.6 787.7 238.9 783 241 778.7 C242.9 774.6 244.6 770.1 246.7 766.3 C248.6 762.7 251 759.3 253.3 755.9 C256 752 259.4 746.7 262.9 742.9 C266.3 739.2 270.5 736.1 274.3 733 C278 730 281.9 727.1 285.7 724.4 C289.5 721.8 293.3 718.9 297.1 716.8 C300.8 714.8 304.9 713.1 308.6 712 C312 711.1 315.5 710.8 319 710.7 C322.7 710.6 326.7 711 330.5 711.5 C334.3 712 338.2 712.5 341.9 713.6 C345.7 714.6 349.6 716.1 353.3 717.8 C357.1 719.4 361 721.6 364.8 723.5 C368.6 725.4 372.7 727.1 376.2 729.2 C379.5 731.2 382.7 733.4 385.7 735.9 C388.9 738.4 392.3 741.3 395.2 744.4 C398.3 747.6 401.1 751.3 403.8 754.9 C406.5 758.6 409.7 762.4 411.4 766.3 C413.1 770.2 413.4 774.6 414.3 778.7 C415.2 783 416.3 787.9 417.1 792 C417.9 795.8 418.8 799.6 419 803.5 C419.4 807.9 419.2 813.6 419 818.7 C418.9 825.2 418 842.3 418 842.3Z" fill="#305EAD"/>
<path d="M644.5 842.3 C644.5 842.3 650.6 833.8 653.3 830.1 C655.8 826.9 658.4 823.8 661 820.6 C663.5 817.4 666.3 814.3 668.6 811.1 C670.7 808.1 674.3 801.6 674.3 801.6 C674.3 801.6 673.7 792.7 673.3 788.2 C672.9 782.8 672.5 775.5 671.4 769.2 C670.3 762.8 668.1 756.5 666.7 750.1 C665.2 743.8 663.8 737.4 662.9 731.1 C661.9 724.8 660.7 718.2 661 712 C661.2 706 662.4 698.9 664.2 694 C665.7 689.9 668.8 686.5 671.4 683 C674.2 679.3 677.5 674.4 681 671.6 C684.2 668.9 688.6 667.4 692.4 665.9 C696.1 664.3 700 663.1 703.8 662 C707.6 661 711.4 660.2 715.2 659.8 C719 659.3 722.9 659.1 726.7 659.2 C730.5 659.3 734.3 659.7 738.1 660.1 C742.5 660.6 748.3 661.5 753.3 662 C758.4 662.6 763.5 663.1 768.6 663.6 C773.6 664 779.4 664.5 783.8 664.9 C787.6 665.2 791.4 665.7 795.2 665.9 C799.7 666.1 805.4 666.1 810.5 666.2 C815.6 666.4 820.6 666.6 825.7 666.8 C830.8 667.1 835.9 667.2 841 667.8 C846.6 668.4 854.5 669.3 859.5 670.6 C863.5 671.6 867.1 673.9 871 675.4 C875.1 677 879.8 678.6 884.3 680.1 C888.7 681.7 893.2 683.4 897.6 684.9 C902 686.4 906.5 687.8 911 689.1 C915.7 690.5 922.4 691.9 926.2 693.5 C929 694.7 931.4 696.8 933.8 698.7 C936.3 700.7 938.9 703.2 941.4 705.4 C944 707.6 947.1 709.3 949 712 C951.1 715.1 951.9 719.8 953.8 723.5 C955.7 727.1 958.3 730.5 960.5 734 C962.7 737.4 965.4 740.8 967.1 744.4 C968.9 748.1 969.6 752.2 971 755.9 C972.3 759.4 974.7 762.6 975.3 766.3 C976.3 771.7 976.3 781.4 976.7 788.2 C977 794.6 977.3 801.4 977.6 807.3 C977.9 812.7 978.6 823.5 978.6 823.5 C978.6 823.5 981.6 828.1 983.3 830.1 C985.1 832.2 986.9 834.3 989 835.9 C991.8 837.9 999.8 842.3 999.8 842.3Z" fill="#305EAD"/>
</g>
<rect x="131" y="50" width="914.2" height="266.3" fill="none" stroke="#2b2727" stroke-width="1.25"/>
<path d="M122 49.8H131M122 62.2H131M113 73.3H131M122 146.5H131M122 189.2H131M122 219.6H131M122 243.1H131M122 262.4H131M122 278.7H131M122 292.8H131M122 305.2H131M113 316.3H131M131 316.3V321.6M206.3 316.3V321.6M281.7 316.3V321.6M357 316.3V321.6M432.3 316.3V321.6M507.6 316.3V321.6M583 316.3V321.6M658.3 316.3V321.6M733.6 316.3V321.6M809 316.3V321.6M884.3 316.3V321.6M959.6 316.3V321.6M1045.2 316.3V321.6" stroke="#2b2727" stroke-width="1" fill="none"/>
<text x="107.75" y="83.6" text-anchor="end" font-size="27.5" letter-spacing="1.85" fill="#231F20" font-family="Liberation Sans, Arial, sans-serif" class="t" >100</text>
<text x="106.73" y="325.3" text-anchor="end" font-size="27.5" letter-spacing="0.82" fill="#231F20" font-family="Liberation Sans, Arial, sans-serif" class="t" >1,000</text>
<text x="-0.24" y="0" text-anchor="middle" font-size="27.5" letter-spacing="-0.48" fill="#231F20" font-family="Liberation Sans, Arial, sans-serif" class="t" transform="translate(36.2 188) rotate(-90)">Pressure (hPa)</text>
<text x="168.66" y="347.2" text-anchor="middle" font-size="27.5" fill="#231F20" font-family="Liberation Sans, Arial, sans-serif" class="t" >J</text>
<text x="243.99" y="347.2" text-anchor="middle" font-size="27.5" fill="#231F20" font-family="Liberation Sans, Arial, sans-serif" class="t" >A</text>
<text x="319.32" y="347.2" text-anchor="middle" font-size="27.5" fill="#231F20" font-family="Liberation Sans, Arial, sans-serif" class="t" >S</text>
<text x="394.65" y="347.2" text-anchor="middle" font-size="27.5" fill="#231F20" font-family="Liberation Sans, Arial, sans-serif" class="t" >O</text>
<text x="469.99" y="347.2" text-anchor="middle" font-size="27.5" fill="#231F20" font-family="Liberation Sans, Arial, sans-serif" class="t" >N</text>
<text x="545.32" y="347.2" text-anchor="middle" font-size="27.5" fill="#231F20" font-family="Liberation Sans, Arial, sans-serif" class="t" >D</text>
<text x="620.64" y="347.2" text-anchor="middle" font-size="27.5" fill="#231F20" font-family="Liberation Sans, Arial, sans-serif" class="t" >J</text>
<text x="695.97" y="347.2" text-anchor="middle" font-size="27.5" fill="#231F20" font-family="Liberation Sans, Arial, sans-serif" class="t" >F</text>
<text x="771.31" y="347.2" text-anchor="middle" font-size="27.5" fill="#231F20" font-family="Liberation Sans, Arial, sans-serif" class="t" >M</text>
<text x="846.63" y="347.2" text-anchor="middle" font-size="27.5" fill="#231F20" font-family="Liberation Sans, Arial, sans-serif" class="t" >A</text>
<text x="921.96" y="347.2" text-anchor="middle" font-size="27.5" fill="#231F20" font-family="Liberation Sans, Arial, sans-serif" class="t" >M</text>
<text x="1002.41" y="347.2" text-anchor="middle" font-size="27.5" fill="#231F20" font-family="Liberation Sans, Arial, sans-serif" class="t" >J</text>
<text x="584.08" y="382.3" text-anchor="middle" font-size="27.5" letter-spacing="1.75" fill="#231F20" font-family="Liberation Sans, Arial, sans-serif" class="t" >Month</text>
<text x="583.67" y="35.6" text-anchor="middle" font-size="27.5" letter-spacing="0.33" fill="#231F20" font-family="Liberation Sans, Arial, sans-serif" class="t" >Northern Hemisphere</text>
<text x="3.4" y="22" font-size="31.5" font-weight="bold" textLength="15.6" lengthAdjust="spacingAndGlyphs" fill="#231F20" font-family="Liberation Sans, Arial, sans-serif">a</text>
<path d="M191.4 411.3L130.4 421.1L191.4 431Z" fill="#2B4FA6" stroke="#1d1d26" stroke-width="1.3" stroke-linejoin="miter"/>
<path d="M983.8 411.3L1045.6 421.1L983.8 431Z" fill="#A0259B" stroke="#1d1d26" stroke-width="1.3" stroke-linejoin="miter"/>
<rect x="191.4" y="411.3" width="61" height="19.7" fill="#305EAD" stroke="#1d1d26" stroke-width="1.3"/>
<rect x="252.4" y="411.3" width="61" height="19.7" fill="#4C90CF" stroke="#1d1d26" stroke-width="1.3"/>
<rect x="313.3" y="411.3" width="61" height="19.7" fill="#66CCF4" stroke="#1d1d26" stroke-width="1.3"/>
<rect x="374.2" y="411.3" width="61" height="19.7" fill="#A5DDEC" stroke="#1d1d26" stroke-width="1.3"/>
<rect x="435.2" y="411.3" width="61" height="19.7" fill="#DCF0F6" stroke="#1d1d26" stroke-width="1.3"/>
<rect x="496.1" y="411.3" width="61" height="19.7" fill="#F8F6BD" stroke="#1d1d26" stroke-width="1.3"/>
<rect x="557.1" y="411.3" width="61" height="19.7" fill="#FEDC90" stroke="#1d1d26" stroke-width="1.3"/>
<rect x="618.1" y="411.3" width="61" height="19.7" fill="#F9AA74" stroke="#1d1d26" stroke-width="1.3"/>
<rect x="679" y="411.3" width="61" height="19.7" fill="#F27664" stroke="#1d1d26" stroke-width="1.3"/>
<rect x="740" y="411.3" width="61" height="19.7" fill="#DF3142" stroke="#1d1d26" stroke-width="1.3"/>
<rect x="800.9" y="411.3" width="61" height="19.7" fill="#A91D31" stroke="#1d1d26" stroke-width="1.3"/>
<rect x="861.9" y="411.3" width="61" height="19.7" fill="#63091F" stroke="#1d1d26" stroke-width="1.3"/>
<rect x="922.8" y="411.3" width="61" height="19.7" fill="#5C2470" stroke="#1d1d26" stroke-width="1.3"/>
<text x="191.9" y="461" text-anchor="middle" font-size="27.5" fill="#231F20" font-family="Liberation Sans, Arial, sans-serif" class="t" >6</text>
<text x="252.85" y="461" text-anchor="middle" font-size="27.5" fill="#231F20" font-family="Liberation Sans, Arial, sans-serif" class="t" >9</text>
<text x="313.8" y="461" text-anchor="middle" font-size="27.5" fill="#231F20" font-family="Liberation Sans, Arial, sans-serif" class="t" >12</text>
<text x="374.75" y="461" text-anchor="middle" font-size="27.5" fill="#231F20" font-family="Liberation Sans, Arial, sans-serif" class="t" >15</text>
<text x="435.7" y="461" text-anchor="middle" font-size="27.5" fill="#231F20" font-family="Liberation Sans, Arial, sans-serif" class="t" >18</text>
<text x="496.65" y="461" text-anchor="middle" font-size="27.5" fill="#231F20" font-family="Liberation Sans, Arial, sans-serif" class="t" >21</text>
<text x="558.25" y="461" text-anchor="middle" font-size="27.5" letter-spacing="1.30" fill="#231F20" font-family="Liberation Sans, Arial, sans-serif" class="t" >24</text>
<text x="619.45" y="461" text-anchor="middle" font-size="27.5" letter-spacing="1.80" fill="#231F20" font-family="Liberation Sans, Arial, sans-serif" class="t" >27</text>
<text x="680.1" y="461" text-anchor="middle" font-size="27.5" letter-spacing="1.20" fill="#231F20" font-family="Liberation Sans, Arial, sans-serif" class="t" >30</text>
<text x="740.85" y="461" text-anchor="middle" font-size="27.5" letter-spacing="0.80" fill="#231F20" font-family="Liberation Sans, Arial, sans-serif" class="t" >40</text>
<text x="802.05" y="461" text-anchor="middle" font-size="27.5" letter-spacing="1.30" fill="#231F20" font-family="Liberation Sans, Arial, sans-serif" class="t" >50</text>
<text x="863.1" y="461" text-anchor="middle" font-size="27.5" letter-spacing="1.50" fill="#231F20" font-family="Liberation Sans, Arial, sans-serif" class="t" >60</text>
<text x="924.1" y="461" text-anchor="middle" font-size="27.5" letter-spacing="1.60" fill="#231F20" font-family="Liberation Sans, Arial, sans-serif" class="t" >70</text>
<text x="984.9" y="461" text-anchor="middle" font-size="27.5" letter-spacing="1.30" fill="#231F20" font-family="Liberation Sans, Arial, sans-serif" class="t" >80</text>
<text x="587.78" y="496.4" text-anchor="middle" font-size="27.5" letter-spacing="-0.14" fill="#231F20" font-family="Liberation Sans, Arial, sans-serif" class="t" >Persistence (days)</text>
<rect x="131" y="573.3" width="914.2" height="266" fill="none" stroke="#2b2727" stroke-width="1.25"/>
<path d="M122 573.1H131M122 585.5H131M113 596.6H131M122 669.8H131M122 712.5H131M122 742.9H131M122 766.4H131M122 785.7H131M122 802H131M122 816.1H131M122 828.5H131M113 839.6H131M131 839.3V844.6M206.3 839.3V844.6M281.7 839.3V844.6M357 839.3V844.6M432.3 839.3V844.6M507.6 839.3V844.6M583 839.3V844.6M658.3 839.3V844.6M733.6 839.3V844.6M809 839.3V844.6M884.3 839.3V844.6M959.6 839.3V844.6M1045.2 839.3V844.6" stroke="#2b2727" stroke-width="1" fill="none"/>
<text x="107.75" y="606.9" text-anchor="end" font-size="27.5" letter-spacing="1.85" fill="#231F20" font-family="Liberation Sans, Arial, sans-serif" class="t" >100</text>
<text x="106.73" y="848.3" text-anchor="end" font-size="27.5" letter-spacing="0.82" fill="#231F20" font-family="Liberation Sans, Arial, sans-serif" class="t" >1,000</text>
<text x="-0.24" y="0" text-anchor="middle" font-size="27.5" letter-spacing="-0.48" fill="#231F20" font-family="Liberation Sans, Arial, sans-serif" class="t" transform="translate(36.2 711.3) rotate(-90)">Pressure (hPa)</text>
<text x="168.66" y="870.2" text-anchor="middle" font-size="27.5" fill="#231F20" font-family="Liberation Sans, Arial, sans-serif" class="t" >J</text>
<text x="243.99" y="870.2" text-anchor="middle" font-size="27.5" fill="#231F20" font-family="Liberation Sans, Arial, sans-serif" class="t" >A</text>
<text x="319.32" y="870.2" text-anchor="middle" font-size="27.5" fill="#231F20" font-family="Liberation Sans, Arial, sans-serif" class="t" >S</text>
<text x="394.65" y="870.2" text-anchor="middle" font-size="27.5" fill="#231F20" font-family="Liberation Sans, Arial, sans-serif" class="t" >O</text>
<text x="469.99" y="870.2" text-anchor="middle" font-size="27.5" fill="#231F20" font-family="Liberation Sans, Arial, sans-serif" class="t" >N</text>
<text x="545.32" y="870.2" text-anchor="middle" font-size="27.5" fill="#231F20" font-family="Liberation Sans, Arial, sans-serif" class="t" >D</text>
<text x="620.64" y="870.2" text-anchor="middle" font-size="27.5" fill="#231F20" font-family="Liberation Sans, Arial, sans-serif" class="t" >J</text>
<text x="695.97" y="870.2" text-anchor="middle" font-size="27.5" fill="#231F20" font-family="Liberation Sans, Arial, sans-serif" class="t" >F</text>
<text x="771.31" y="870.2" text-anchor="middle" font-size="27.5" fill="#231F20" font-family="Liberation Sans, Arial, sans-serif" class="t" >M</text>
<text x="846.63" y="870.2" text-anchor="middle" font-size="27.5" fill="#231F20" font-family="Liberation Sans, Arial, sans-serif" class="t" >A</text>
<text x="921.96" y="870.2" text-anchor="middle" font-size="27.5" fill="#231F20" font-family="Liberation Sans, Arial, sans-serif" class="t" >M</text>
<text x="1002.41" y="870.2" text-anchor="middle" font-size="27.5" fill="#231F20" font-family="Liberation Sans, Arial, sans-serif" class="t" >J</text>
<text x="584.08" y="905.3" text-anchor="middle" font-size="27.5" letter-spacing="1.75" fill="#231F20" font-family="Liberation Sans, Arial, sans-serif" class="t" >Month</text>
<text x="583.51" y="558.9" text-anchor="middle" font-size="27.5" letter-spacing="0.02" fill="#231F20" font-family="Liberation Sans, Arial, sans-serif" class="t" >Southern Hemisphere</text>
<text x="3.0" y="543.7" font-size="33.6" font-weight="bold" textLength="19.2" lengthAdjust="spacingAndGlyphs" fill="#231F20" font-family="Liberation Sans, Arial, sans-serif">b</text>
<path d="M191.4 932.5L130.4 942.3L191.4 952.2Z" fill="#2B4FA6" stroke="#1d1d26" stroke-width="1.3" stroke-linejoin="miter"/>
<path d="M983.8 932.5L1045.6 942.3L983.8 952.2Z" fill="#A0259B" stroke="#1d1d26" stroke-width="1.3" stroke-linejoin="miter"/>
<rect x="191.4" y="932.5" width="61" height="19.7" fill="#305EAD" stroke="#1d1d26" stroke-width="1.3"/>
<rect x="252.4" y="932.5" width="61" height="19.7" fill="#4C90CF" stroke="#1d1d26" stroke-width="1.3"/>
<rect x="313.3" y="932.5" width="61" height="19.7" fill="#66CCF4" stroke="#1d1d26" stroke-width="1.3"/>
<rect x="374.2" y="932.5" width="61" height="19.7" fill="#A5DDEC" stroke="#1d1d26" stroke-width="1.3"/>
<rect x="435.2" y="932.5" width="61" height="19.7" fill="#DCF0F6" stroke="#1d1d26" stroke-width="1.3"/>
<rect x="496.1" y="932.5" width="61" height="19.7" fill="#F8F6BD" stroke="#1d1d26" stroke-width="1.3"/>
<rect x="557.1" y="932.5" width="61" height="19.7" fill="#FEDC90" stroke="#1d1d26" stroke-width="1.3"/>
<rect x="618.1" y="932.5" width="61" height="19.7" fill="#F9AA74" stroke="#1d1d26" stroke-width="1.3"/>
<rect x="679" y="932.5" width="61" height="19.7" fill="#F27664" stroke="#1d1d26" stroke-width="1.3"/>
<rect x="740" y="932.5" width="61" height="19.7" fill="#DF3142" stroke="#1d1d26" stroke-width="1.3"/>
<rect x="800.9" y="932.5" width="61" height="19.7" fill="#A91D31" stroke="#1d1d26" stroke-width="1.3"/>
<rect x="861.9" y="932.5" width="61" height="19.7" fill="#63091F" stroke="#1d1d26" stroke-width="1.3"/>
<rect x="922.8" y="932.5" width="61" height="19.7" fill="#5C2470" stroke="#1d1d26" stroke-width="1.3"/>
<text x="191.9" y="981.9" text-anchor="middle" font-size="27.5" fill="#231F20" font-family="Liberation Sans, Arial, sans-serif" class="t" >6</text>
<text x="252.85" y="981.9" text-anchor="middle" font-size="27.5" fill="#231F20" font-family="Liberation Sans, Arial, sans-serif" class="t" >9</text>
<text x="313.8" y="981.9" text-anchor="middle" font-size="27.5" fill="#231F20" font-family="Liberation Sans, Arial, sans-serif" class="t" >12</text>
<text x="374.75" y="981.9" text-anchor="middle" font-size="27.5" fill="#231F20" font-family="Liberation Sans, Arial, sans-serif" class="t" >15</text>
<text x="435.7" y="981.9" text-anchor="middle" font-size="27.5" fill="#231F20" font-family="Liberation Sans, Arial, sans-serif" class="t" >18</text>
<text x="496.65" y="981.9" text-anchor="middle" font-size="27.5" fill="#231F20" font-family="Liberation Sans, Arial, sans-serif" class="t" >21</text>
<text x="558.25" y="981.9" text-anchor="middle" font-size="27.5" letter-spacing="1.30" fill="#231F20" font-family="Liberation Sans, Arial, sans-serif" class="t" >24</text>
<text x="619.45" y="981.9" text-anchor="middle" font-size="27.5" letter-spacing="1.80" fill="#231F20" font-family="Liberation Sans, Arial, sans-serif" class="t" >27</text>
<text x="680.1" y="981.9" text-anchor="middle" font-size="27.5" letter-spacing="1.20" fill="#231F20" font-family="Liberation Sans, Arial, sans-serif" class="t" >30</text>
<text x="740.85" y="981.9" text-anchor="middle" font-size="27.5" letter-spacing="0.80" fill="#231F20" font-family="Liberation Sans, Arial, sans-serif" class="t" >40</text>
<text x="802.05" y="981.9" text-anchor="middle" font-size="27.5" letter-spacing="1.30" fill="#231F20" font-family="Liberation Sans, Arial, sans-serif" class="t" >50</text>
<text x="863.1" y="981.9" text-anchor="middle" font-size="27.5" letter-spacing="1.50" fill="#231F20" font-family="Liberation Sans, Arial, sans-serif" class="t" >60</text>
<text x="924.1" y="981.9" text-anchor="middle" font-size="27.5" letter-spacing="1.60" fill="#231F20" font-family="Liberation Sans, Arial, sans-serif" class="t" >70</text>
<text x="984.9" y="981.9" text-anchor="middle" font-size="27.5" letter-spacing="1.30" fill="#231F20" font-family="Liberation Sans, Arial, sans-serif" class="t" >80</text>
<text x="587.78" y="1017.3" text-anchor="middle" font-size="27.5" letter-spacing="-0.14" fill="#231F20" font-family="Liberation Sans, Arial, sans-serif" class="t" >Persistence (days)</text>
</svg>
</body></html>
